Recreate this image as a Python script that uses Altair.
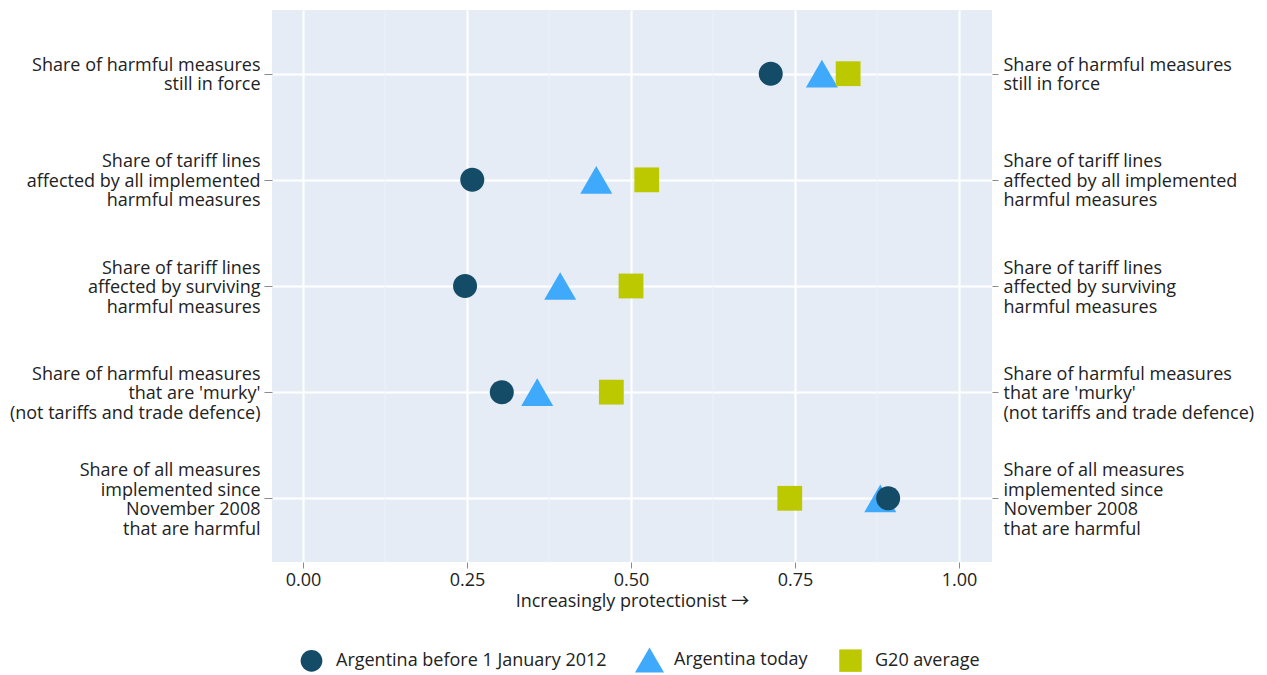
import altair as alt
import pandas as pd

categories = [
    "Share of harmful measures\nstill in force",
    "Share of tariff lines\naffected by all implemented\nharmful measures",
    "Share of tariff lines\naffected by surviving\nharmful measures",
    "Share of harmful measures\nthat are 'murky'\n(not tariffs and trade defence)",
    "Share of all measures\nimplemented since\nNovember 2008\nthat are harmful",
]
series = ["Argentina before 1 January 2012", "Argentina today", "G20 average"]
before_2012 = [0.713, 0.258, 0.247, 0.303, 0.892]
today = [0.791, 0.447, 0.392, 0.357, 0.880]
g20 = [0.831, 0.524, 0.500, 0.470, 0.742]
major_ticks = [0.0, 0.25, 0.5, 0.75, 1.0]
minor_ticks = [0.125, 0.375, 0.625, 0.875]

colors = ["#144B67", "#3FA9FC", "#BCC800"]
# symbol outlines in unit coordinates (circle, triangle, square), sized relative to each other
shapes = [
    "M0.75,0A0.75,0.75,0,1,1,-0.75,0A0.75,0.75,0,1,1,0.75,0Z",
    "M0,-0.866L1,0.866L-1,0.866Z",
    "M-0.775,-0.775L0.775,-0.775L0.775,0.775L-0.775,0.775Z",
]

rows = []
# draw order: today, G20, before
for name, vals in [(series[1], today), (series[2], g20), (series[0], before_2012)]:
    for c, v in zip(categories, vals):
        rows.append({"category": c, "value": v, "series": name})
df = pd.DataFrame(rows)
minor_df = pd.DataFrame({"v": minor_ticks})

FONT = "Open Sans"
TXT = "#222222"
FS = 18

x_scale = alt.Scale(domain=[-0.0473, 1.0503], nice=False, zero=False)
x_axis = alt.Axis(
    values=major_ticks, format=".2f", title="Increasingly protectionist \u2192",
    domain=False, grid=True, gridColor="white", gridWidth=2,
    tickColor="#8c8c8c", tickSize=6, labelPadding=3, titlePadding=3,
    labelFont=FONT, labelFontSize=FS, labelColor=TXT,
    titleFont="Open Sans, Noto Sans CJK SC", titleFontSize=FS, titleColor=TXT,
    titleFontWeight="normal",
)
y_scale = alt.Scale(domain=categories, padding=0.6)

label_expr = "split(datum.label, '\\n')"
offset_expr = "1.5 - (length(split(datum.label, '\\n')) - 1) * 9.75"

def y_axis(orient, grid, tick, pad):
    return alt.Axis(
        orient=orient, title=None, domain=False, grid=grid, gridColor="white", gridWidth=2,
        tickColor="#8c8c8c", tickSize=tick, labelPadding=pad,
        labelFont=FONT, labelFontSize=FS, labelColor=TXT, labelLimit=500,
        labelLineHeight=19.5, labelExpr=label_expr,
        labelOffset={"expr": offset_expr},
    )

leg = alt.Legend(
    title=None, orient="none", direction="horizontal", legendX=25, legendY=635,
    labelFont=FONT, labelFontSize=FS, labelColor=TXT, labelOffset=10, labelLimit=500,
    columnPadding=28, symbolSize=841, symbolStrokeWidth=0, symbolOpacity=1,
)

minor = alt.Chart(minor_df).mark_rule(color="#EEF2F9", strokeWidth=1).encode(
    x=alt.X("v:Q", scale=x_scale, axis=x_axis),
)

points = alt.Chart(df).mark_point(filled=True, opacity=1, strokeWidth=0, size=1024).encode(
    x=alt.X("value:Q", scale=x_scale, axis=x_axis),
    y=alt.Y("category:N", scale=y_scale, sort=categories, axis=y_axis("left", True, 8, 4)),
    color=alt.Color("series:N", scale=alt.Scale(domain=series, range=colors), legend=leg),
    shape=alt.Shape("series:N", scale=alt.Scale(domain=series, range=shapes), legend=leg),
    order=alt.Order("idx:Q"),
).transform_window(idx="row_number()")

right = alt.Chart(df).mark_point(opacity=0).encode(
    x=alt.X("value:Q", scale=x_scale, axis=x_axis),
    y=alt.Y("category:N", scale=y_scale, sort=categories, axis=y_axis("right", False, 6, 5)),
)

chart = alt.layer(minor, points, right).resolve_axis(y="independent").properties(
    width=720, height=552,
    autosize=alt.AutoSizeParams(type="none"),
    padding={"left": 264, "top": 2, "right": 267, "bottom": 112},
).configure(background="white").configure_view(fill="#E6ECF5", stroke=None)

chart.save("out.html", embed_options={"renderer": "svg", "actions": False})
